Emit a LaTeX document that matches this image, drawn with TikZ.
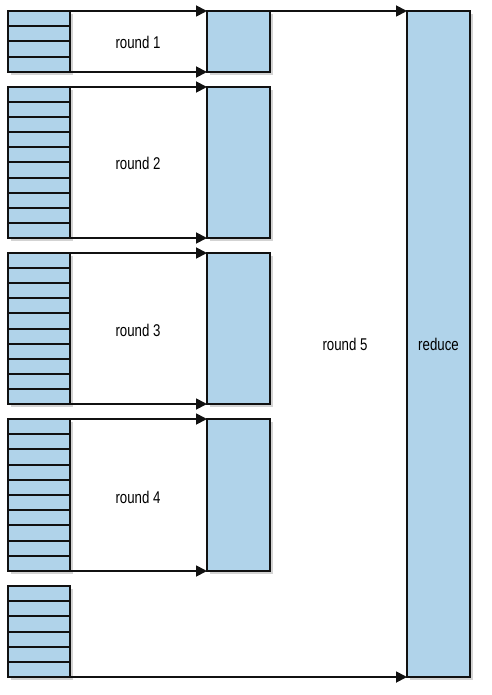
\documentclass[tikz,border=0pt]{standalone}
\usepackage{fontspec}
\setmainfont[FakeStretch=0.78]{Liberation Sans}
\usetikzlibrary{arrows.meta, shadows}
\definecolor{Ink}{HTML}{111111}
\definecolor{SoftBlue}{HTML}{B0D3EA}

\begin{document}
\begin{tikzpicture}[
  x=1pt, y=-1pt,
  font=\fontsize{17}{19}\selectfont,
  box/.style={draw=Ink, line width=2.2pt, fill=SoftBlue, inner sep=0pt, outer sep=0pt,
    drop shadow={shadow xshift=3pt, shadow yshift=-3pt, opacity=0.35}},
  cellline/.style={draw=Ink, line width=2pt},
  arrow/.style={-{Triangle[length=11pt, width=11pt]}, line width=1.8pt, draw=Ink}
]
\useasboundingbox (0,0) rectangle (491,695);

% input stacks
\foreach \nm/\top/\bot/\n in {s1/11/72/4, s2/87/238/10, s3/253/404/10, s4/419/571/10, s5/586/677/6} {
  \node[box, minimum width=62pt, minimum height={(\bot-\top)*1pt}] (\nm) at (39,{(\top+\bot)/2}) {};
  \foreach \k in {2,...,\n}
    \draw[cellline] (8,{\top+(\k-1)*(\bot-\top)/\n}) -- (70,{\top+(\k-1)*(\bot-\top)/\n});
}

% round outputs
\foreach \nm/\top/\bot in {m1/11/72, m2/87/238, m3/253/404, m4/419/571}
  \node[box, minimum width=63pt, minimum height={(\bot-\top)*1pt}] (\nm) at (238.5,{(\top+\bot)/2}) {};

\node[box, minimum width=63pt, minimum height=666pt] (r) at (438.5,344) {reduce};

\foreach \i in {1,...,4} {
  \draw[arrow] (s\i.north east) -- (m\i.north west);
  \draw[arrow] (s\i.south east) -- (m\i.south west);
}
\draw[arrow] (m1.north east) -- (r.north west);
\draw[arrow] (s5.south east) -- (r.south west);

\node (l1) at (138,42) {round 1};
\node (l2) at (138,163) {round 2};
\node (l3) at (138,330) {round 3};
\node (l4) at (138,497) {round 4};
\node (l5) at (345,344) {round 5};
\end{tikzpicture}
\end{document}
